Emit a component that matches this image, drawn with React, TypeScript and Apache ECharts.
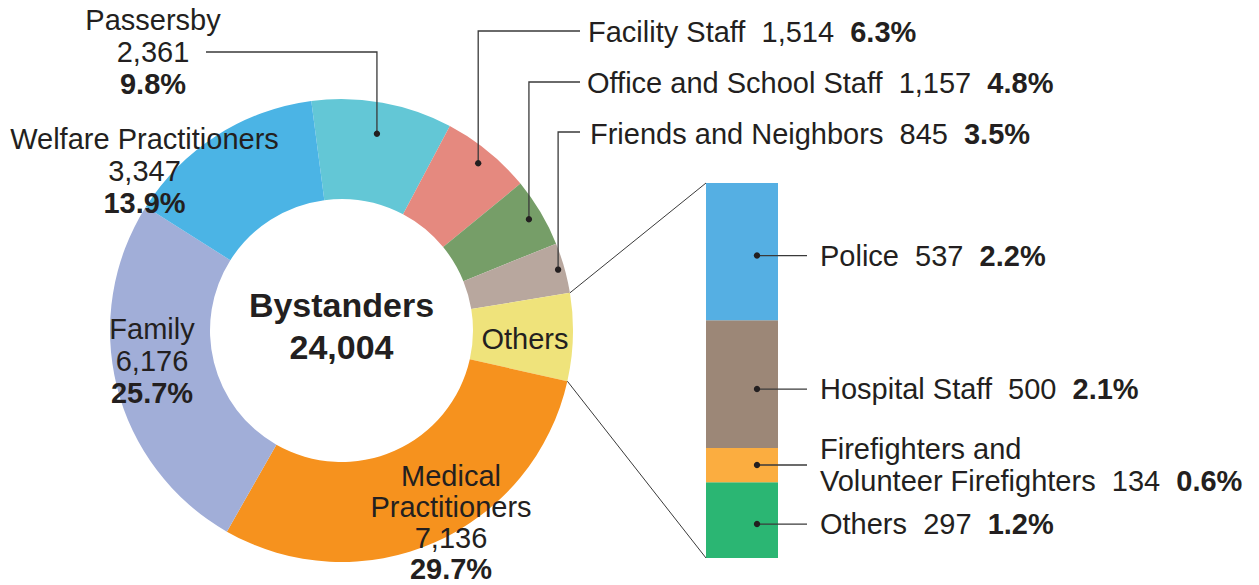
import React, { useEffect, useRef } from "react";
import * as echarts from "echarts";

// ---------------- data ----------------
const bystanderCategories = [
  "Passersby",
  "Facility Staff",
  "Office and School Staff",
  "Friends and Neighbors",
  "Others",
  "Medical Practitioners",
  "Family",
  "Welfare Practitioners",
];
const othersBreakdownNames = [
  "Police",
  "Hospital Staff",
  "Firefighters and Volunteer Firefighters",
  "Others",
];
const othersBreakdownValues = [537, 500, 134, 297];
const othersTotal = othersBreakdownValues.reduce((a, b) => a + b, 0); // 1,468
const bystanderValues = [2361, 1514, 1157, 845, othersTotal, 7136, 6176, 3347];
const centerTitle = "Bystanders";

// ---------------- styles / layout ----------------
const donutColors = ["#63C7D6", "#E5897F", "#769E68", "#B8A79E", "#EFE37B", "#F6921E", "#A1AED8", "#4BB4E5"];
const barColors = ["#55AFE3", "#9C8777", "#FBAD40", "#2BB673"];
const TEXT = "#231F20";
const LINE = "#3A3A3A";
const FONT = "'Liberation Sans', Arial, Helvetica, sans-serif";
const FS = 29;
const CX = 341.5, CY = 330.5, R0 = 131.5, R1 = 231.5, START = 97.5;
const GRID = { left: 706, top: 183, width: 72, height: 375 };

const donutLabelPos: any[] = [
  { x: 153, y: 51.5, align: "center", kind: "stack" },
  { x: 588, y: 31.5, align: "left", kind: "inline" },
  { x: 587, y: 83, align: "left", kind: "inline" },
  { x: 590, y: 133.5, align: "left", kind: "inline" },
  { x: 525, y: 339, align: "center", kind: "name" },
  { x: 451, y: 522.5, align: "center", kind: "stack", wrap: true, tight: true },
  { x: 152, y: 361, align: "center", kind: "stack" },
  { x: 144.5, y: 170.5, align: "center", kind: "stack" },
];
// leader lines: donut index, dot radius, horizontal y, end x
const donutLeaders = [
  { i: 0, r: 200, y: 52, endX: 206 },
  { i: 1, r: 216, y: 31, endX: 580 },
  { i: 2, r: 218, y: 82, endX: 580 },
  { i: 3, r: 225, y: 132, endX: 580 },
];
const barLabelDy = [4, 5, 0, 4];

const fmt = (v: number) => v.toLocaleString("en-US");
const grandTotal = bystanderValues.reduce((a, b) => a + b, 0);
const pct = (v: number) => ((v / grandTotal) * 100).toFixed(1) + "%";

const rich = {
  n: { fontFamily: FONT, fontSize: FS, color: TEXT, lineHeight: 32 },
  b: { fontFamily: FONT, fontSize: FS, color: TEXT, fontWeight: "bold", lineHeight: 32 },
  tn: { fontFamily: FONT, fontSize: FS, color: TEXT, lineHeight: 31 },
  tb: { fontFamily: FONT, fontSize: FS, color: TEXT, fontWeight: "bold", lineHeight: 31 },
};

export default function App() {
  const ref = useRef<HTMLDivElement>(null);
  useEffect(() => {
    document.body.style.margin = "0";
    const chart = echarts.init(ref.current!, null, { renderer: "svg" });

    const barSeriesOrder = [3, 2, 1, 0];
    const option: any = {
      animation: false,
      grid: { ...GRID, containLabel: false },
      xAxis: { type: "category", data: ["Others"], show: false },
      yAxis: { type: "value", min: 0, max: othersTotal, show: false },
      series: [
        {
          type: "pie",
          center: [CX, CY],
          radius: [R0, R1],
          startAngle: START,
          clockwise: true,
          silent: true,
          avoidLabelOverlap: false,
          emphasis: { disabled: true },
          itemStyle: { borderWidth: 0 },
          data: bystanderCategories.map((name, i) => ({
            name,
            value: bystanderValues[i],
            itemStyle: { color: donutColors[i] },
          })),
          label: {
            show: true,
            position: "inside",
            rich,
            formatter: (p: any) => {
              const L = donutLabelPos[p.dataIndex];
              const n = L.tight ? "tn" : "n";
              const b = L.tight ? "tb" : "b";
              const name = L.wrap ? p.name.replace(" ", "\n") : p.name;
              if (L.kind === "stack")
                return (
                  name.split("\n").map((s: string) => `{${n}|${s}}`).join("\n") +
                  `\n{${n}|${fmt(p.value)}}\n{${b}|${pct(p.value)}}`
                );
              if (L.kind === "inline") return `{n|${p.name}  ${fmt(p.value)}  }{b|${pct(p.value)}}`;
              return `{n|${p.name}}`;
            },
          },
          labelLine: { show: false },
          labelLayout: (params: any) => {
            const L = donutLabelPos[params.dataIndex];
            return { x: L.x, y: L.y, align: L.align, verticalAlign: "middle" };
          },
        },
        ...barSeriesOrder.map((k) => ({
          type: "bar",
          name: othersBreakdownNames[k],
          stack: "others",
          barWidth: "100%",
          silent: true,
          emphasis: { disabled: true },
          itemStyle: { color: barColors[k] },
          data: [othersBreakdownValues[k]],
          label: {
            show: true,
            position: [114, "50%"],
            align: "left",
            verticalAlign: "middle",
            offset: [0, barLabelDy[k]],
            rich,
            formatter: () => {
              const nm =
                k === 2 ? othersBreakdownNames[k].replace("and ", "and\n") : othersBreakdownNames[k];
              const lines = nm.split("\n");
              const last = lines.pop();
              return (
                lines.map((s) => `{n|${s}}\n`).join("") +
                `{n|${last}  ${fmt(othersBreakdownValues[k])}  }{b|${pct(othersBreakdownValues[k])}}`
              );
            },
          },
        })),
      ],
    };
    chart.setOption(option);

    // derived geometry
    const rad = (a: number) => (a * Math.PI) / 180;
    const pt = (a: number, r: number) => [CX + r * Math.cos(rad(a)), CY - r * Math.sin(rad(a))];
    let cum = 0;
    const angles = bystanderValues.map((v) => {
      const a0 = START - (cum / grandTotal) * 360;
      cum += v;
      const a1 = START - (cum / grandTotal) * 360;
      return [a0, a1];
    });

    const elements: any[] = [];
    donutLeaders.forEach((L) => {
      const mid = (angles[L.i][0] + angles[L.i][1]) / 2;
      const [dx, dy] = pt(mid, L.r);
      elements.push({
        type: "polyline",
        z: 100,
        silent: true,
        shape: { points: [[dx, dy], [dx, L.y], [L.endX, L.y]] },
        style: { stroke: LINE, lineWidth: 1.3, fill: null },
      });
      elements.push({
        type: "circle",
        z: 101,
        silent: true,
        shape: { cx: dx, cy: dy, r: 3.2 },
        style: { fill: TEXT },
      });
    });

    // connectors from "Others" slice to the breakdown bar
    const [oa0, oa1] = angles[4];
    const topPx = chart.convertToPixel({ gridIndex: 0 }, [0, othersTotal]) as number[];
    const botPx = chart.convertToPixel({ gridIndex: 0 }, [0, 0]) as number[];
    const pTop = pt(oa0, R1);
    const pBot = pt(oa1, R1);
    elements.push({
      type: "line", z: 100, silent: true,
      shape: { x1: pTop[0], y1: pTop[1], x2: GRID.left, y2: topPx[1] },
      style: { stroke: LINE, lineWidth: 1 },
    });
    elements.push({
      type: "line", z: 100, silent: true,
      shape: { x1: pBot[0], y1: pBot[1], x2: GRID.left, y2: botPx[1] },
      style: { stroke: LINE, lineWidth: 1 },
    });

    // bar dots + lines
    let below = 0;
    const belowArr: number[] = [];
    barSeriesOrder.forEach((k) => {
      belowArr[k] = below;
      below += othersBreakdownValues[k];
    });
    othersBreakdownValues.forEach((v, k) => {
      const p = chart.convertToPixel({ gridIndex: 0 }, [0, belowArr[k] + v / 2]) as number[];
      const y = p[1] + barLabelDy[k];
      const x = p[0] + 15;
      elements.push({
        type: "line", z: 100, silent: true,
        shape: { x1: x, y1: y, x2: x + 50, y2: y },
        style: { stroke: LINE, lineWidth: 1.3 },
      });
      elements.push({
        type: "circle", z: 101, silent: true,
        shape: { cx: x, cy: y, r: 3.2 },
        style: { fill: TEXT },
      });
    });

    // center title
    elements.push({
      type: "text", z: 100, silent: true, x: CX, y: 305,
      style: { text: centerTitle, font: `bold 34px ${FONT}`, fill: TEXT, textAlign: "center", textVerticalAlign: "middle" },
    });
    elements.push({
      type: "text", z: 100, silent: true, x: CX, y: 347,
      style: { text: fmt(grandTotal), font: `bold 34px ${FONT}`, fill: TEXT, textAlign: "center", textVerticalAlign: "middle" },
    });

    chart.setOption({ graphic: elements });
    return () => chart.dispose();
  }, []);
  return <div ref={ref} style={{ width: 1259, height: 585, overflow: "hidden" }} />;
}
